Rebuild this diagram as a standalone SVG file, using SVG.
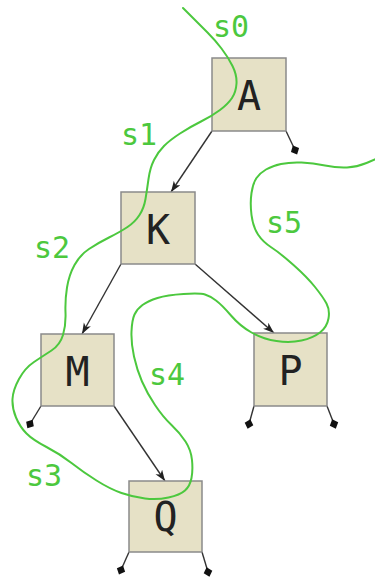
<svg xmlns="http://www.w3.org/2000/svg" width="375" height="581" viewBox="0 0 375 581">
<style>
.box{fill:#e6e1c6;stroke:#8a8a8a;stroke-width:1.5}
.lbl{font-family:"DejaVu Sans Mono","Liberation Mono",monospace;font-size:40px;fill:#222;text-anchor:middle}
.edge{stroke:#333;stroke-width:1.4;fill:none}
.arrow{marker-end:url(#ah)}
.nil{marker-end:url(#dia)}
.seg{fill:none;stroke:#4cc83e;stroke-width:2;stroke-linecap:round;stroke-linejoin:round}
.sl{font-family:"DejaVu Sans Mono","Liberation Mono",monospace;font-size:30px;fill:#4cc83e}
</style>
<defs>
<marker id="ah" markerUnits="userSpaceOnUse" markerWidth="14" markerHeight="10" refX="11" refY="4" orient="auto">
<path d="M0,0 L11,4 L0,8 L3,4 z" fill="#222"/>
</marker>
<marker id="dia" markerUnits="userSpaceOnUse" markerWidth="12" markerHeight="12" refX="5" refY="5" orient="auto">
<path d="M0,5 L5,0.5 L10,5 L5,9.5 z" fill="#111"/>
</marker>
</defs>
<g id="connectors">
<line class="edge arrow" x1="212" y1="131" x2="171" y2="192"/>
<line class="edge arrow" x1="121" y1="264" x2="82" y2="334"/>
<line class="edge arrow" x1="195" y1="264" x2="274" y2="333"/>
<line class="edge arrow" x1="114" y1="406" x2="165" y2="481"/>
<line class="edge nil" x1="286" y1="131" x2="295" y2="150"/>
<line class="edge nil" x1="41" y1="406" x2="30" y2="424"/>
<line class="edge nil" x1="254" y1="406" x2="249" y2="424"/>
<line class="edge nil" x1="327" y1="406" x2="334" y2="424"/>
<line class="edge nil" x1="129" y1="552" x2="121" y2="570"/>
<line class="edge nil" x1="202" y1="552" x2="208" y2="572"/>
</g>
<g id="node-A"><rect class="box" x="212" y="58" width="74" height="73"/><text class="lbl" x="249" y="110">A</text></g>
<g id="node-K"><rect class="box" x="121" y="192" width="74" height="72"/><text class="lbl" x="158" y="244">K</text></g>
<g id="node-M"><rect class="box" x="41" y="334" width="73" height="72"/><text class="lbl" x="77.5" y="386">M</text></g>
<g id="node-P"><rect class="box" x="254" y="333" width="73" height="73"/><text class="lbl" x="290.5" y="385">P</text></g>
<g id="node-Q"><rect class="box" x="129" y="481" width="73" height="71"/><text class="lbl" x="165.5" y="531">Q</text></g>
<g id="traversal">
<path class="seg" d="M183,8 Q200,25 207.5,32.5 Q215,40 221.5,48.5 Q228,57 232.5,66 Q237,75 236.5,83.5 Q236,92 232,98 Q228,104 220,110 Q212,116 201,121.5 Q190,127 180,133.5 Q170,140 164,146 Q158,152 154,160 Q150,168 148.5,179 Q147,190 145.5,199 Q144,208 139.5,215 Q135,222 127.5,227 Q120,232 109,237.5 Q98,243 89,249 Q80,255 74.5,265 Q69,275 67,287.5 Q65,300 65.5,312.5 Q66,325 63,335 Q60,345 51.5,350.5 Q43,356 34,362 Q25,368 19,379 Q13,390 12.5,399 Q12,408 16,417.5 Q20,427 26.5,433.5 Q33,440 46.5,447 Q60,454 71.5,463 Q83,472 96.5,480.5 Q110,489 121.5,493 Q133,497 145,498.5 Q157,500 168.5,497.5 Q180,495 185,490.5 Q190,486 191.5,478 Q193,470 192,460 Q191,450 185.5,441.5 Q180,433 171.5,425 Q163,417 155,405 Q147,393 142,381.5 Q137,370 134,356.5 Q131,343 131.5,331.5 Q132,320 134.5,314.5 Q137,309 142.5,305 Q148,301 157.5,298 Q167,295 183.5,294 Q200,293 205,294.5 Q210,296 216,300.5 Q222,305 231,315.5 Q240,326 251.5,332.5 Q263,339 276.5,341 Q290,343 301.5,340.5 Q313,338 320,332.5 Q327,327 328.5,318.5 Q330,310 326.5,303.5 Q323,297 315,287 Q307,277 293.5,265 Q280,253 271.5,247.5 Q263,242 258,234.5 Q253,227 251.5,215 Q250,203 251.5,193 Q253,183 256.5,178 Q260,173 266,169.5 Q272,166 281,164 Q290,162 301.5,162.5 Q313,163 325,165.5 Q337,168 347,167.5 Q357,167 366.5,163 L376,159"/>
<text class="sl" x="213" y="37">s0</text>
<text class="sl" x="121" y="145">s1</text>
<text class="sl" x="34" y="258">s2</text>
<text class="sl" x="26" y="486">s3</text>
<text class="sl" x="149" y="385">s4</text>
<text class="sl" x="266" y="233">s5</text>
</g>
</svg>
